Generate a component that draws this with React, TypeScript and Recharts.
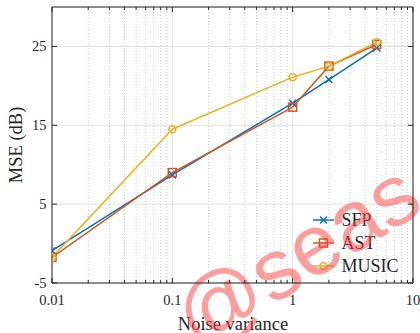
import React from 'react';
import { LineChart, Line, XAxis, YAxis, CartesianGrid, ReferenceLine, Customized } from 'recharts';

const noiseVariance = [0.01, 0.1, 1, 2, 5];
const sfpMse = [-0.9, 8.7, 17.8, 20.8, 24.8];
const astMse = [-1.75, 9.0, 17.3, 22.5, 25.25];
const musicMse = [-1.75, 14.5, 21.1, 22.5, 25.55];

const xTicks = [0.01, 0.1, 1, 10];
const xTickLabels = ['0.01', '0.1', '1', '10'];
const yTicks = [-5, 5, 15, 25];
const minorXTicks = [
  0.02, 0.03, 0.04, 0.05, 0.06, 0.07, 0.08, 0.09,
  0.2, 0.3, 0.4, 0.5, 0.6, 0.7, 0.8, 0.9,
  2, 3, 4, 5, 6, 7, 8, 9,
];
const xDomain: [number, number] = [0.01, 10];
const yDomain: [number, number] = [-5, 30];

const seriesNames = ['SFP', 'AST', 'MUSIC'];
const seriesColors = ['#0072BD', '#D95319', '#EDB120'];

const data = noiseVariance.map((x, i) => ({
  x,
  sfp: sfpMse[i],
  ast: astMse[i],
  music: musicMse[i],
}));

const FONT = 'Liberation Serif, serif';
const AXIS = '#262626';
const serifStyle = { fontFamily: FONT };

const Marker = ({ kind, cx, cy, color }: { kind: number; cx: number; cy: number; color: string }) => {
  if (kind === 0) {
    const s = 3.5;
    return (
      <g>
        <line x1={cx - s} y1={cy - s} x2={cx + s} y2={cy + s} stroke={color} strokeWidth={1.5} />
        <line x1={cx - s} y1={cy + s} x2={cx + s} y2={cy - s} stroke={color} strokeWidth={1.5} />
      </g>
    );
  }
  if (kind === 1) {
    return <rect x={cx - 4} y={cy - 4} width={8} height={8} fill="none" stroke={color} strokeWidth={1.5} />;
  }
  return <circle cx={cx} cy={cy} r={3.5} fill="none" stroke={color} strokeWidth={1.5} />;
};

const dotFor = (kind: number) => (p: any) => (
  <g key={`m-${kind}-${p.index}`}>
    <Marker kind={kind} cx={p.cx} cy={p.cy} color={seriesColors[kind]} />
  </g>
);

const BottomTick = (p: any) => {
  const idx = xTicks.indexOf(p.payload.value);
  return (
    <g>
      <line x1={p.x} y1={p.y} x2={p.x} y2={p.y - 5} stroke={AXIS} strokeWidth={1} />
      <text x={p.x} y={p.y + 22} textAnchor="middle" style={serifStyle} fontSize={14.5} fill={AXIS}>
        {idx >= 0 ? xTickLabels[idx] : String(p.payload.value)}
      </text>
    </g>
  );
};
const TopTick = (p: any) => (
  <line x1={p.x} y1={p.y} x2={p.x} y2={p.y + 5} stroke={AXIS} strokeWidth={1} />
);
const LeftTick = (p: any) => (
  <g>
    <line x1={p.x} y1={p.y} x2={p.x + 5} y2={p.y} stroke={AXIS} strokeWidth={1} />
    <text x={p.x - 5.5} y={p.y + 5} textAnchor="end" style={serifStyle} fontSize={14.5} fill={AXIS}>
      {String(p.payload.value)}
    </text>
  </g>
);
const RightTick = (p: any) => (
  <line x1={p.x} y1={p.y} x2={p.x - 5} y2={p.y} stroke={AXIS} strokeWidth={1} />
);

const Overlay = () => (
  <g>
    <text x={233} y={330} textAnchor="middle" style={serifStyle} fontSize={18.5} fill={AXIS}>
      Noise variance
    </text>
    <text
      x={22}
      y={145}
      textAnchor="middle"
      style={serifStyle}
      fontSize={18.5}
      fill={AXIS}
      transform="rotate(-90 22 145)"
    >
      MSE (dB)
    </text>
    {seriesNames.map((name, i) => {
      const cy = 220 + i * 23;
      return (
        <g key={name}>
          <line x1={313} y1={cy} x2={334} y2={cy} stroke={seriesColors[i]} strokeWidth={1.5} />
          <Marker kind={i} cx={323.5} cy={cy} color={seriesColors[i]} />
          <text x={341.5} y={cy + 6} style={serifStyle} fontSize={18} fill={AXIS}>
            {name}
          </text>
        </g>
      );
    })}
    <text
      transform="translate(198 352) rotate(-32)"
      x={0}
      y={0}
      style={{ fontFamily: 'Liberation Sans, Arial, sans-serif' }}
      fontSize={86}
      fill="rgba(255,60,60,0.5)"
    >
      @seas
    </text>
  </g>
);

const axisCommon = {
  tickSize: 0,
  tickMargin: 0,
  tickLine: false,
  allowDataOverflow: true,
  interval: 0 as const,
  axisLine: { stroke: AXIS, strokeWidth: 1 },
};

export default function App() {
  return (
    <div style={{ position: 'absolute', left: 0, top: 0, width: 420, height: 333, background: '#fff' }}>
      <LineChart width={420} height={333} data={data} margin={{ top: 4, right: 4, bottom: 10, left: 12 }}>
        <CartesianGrid stroke="#e2e2e2" strokeWidth={1} />
        {minorXTicks.map((v) => (
          <ReferenceLine key={`g${v}`} x={v} stroke="#cccccc" strokeDasharray="1 2" strokeWidth={1} />
        ))}
        {minorXTicks.map((v) => (
          <ReferenceLine
            key={`b${v}`}
            segment={[{ x: v, y: -5 }, { x: v, y: -4.62 }]}
            stroke={AXIS}
            strokeWidth={1}
          />
        ))}
        {minorXTicks.map((v) => (
          <ReferenceLine
            key={`t${v}`}
            segment={[{ x: v, y: 30 }, { x: v, y: 29.62 }]}
            stroke={AXIS}
            strokeWidth={1}
          />
        ))}
        <XAxis
          {...axisCommon}
          dataKey="x"
          type="number"
          scale="log"
          domain={xDomain}
          ticks={xTicks}
          height={40}
          tick={BottomTick}
        />
        <XAxis
          {...axisCommon}
          xAxisId="top"
          orientation="top"
          dataKey="x"
          type="number"
          scale="log"
          domain={xDomain}
          ticks={xTicks}
          height={3}
          tick={TopTick}
        />
        <YAxis {...axisCommon} type="number" domain={yDomain} ticks={yTicks} width={40} tick={LeftTick} />
        <YAxis
          {...axisCommon}
          yAxisId="right"
          orientation="right"
          type="number"
          domain={yDomain}
          ticks={yTicks}
          width={3}
          tick={RightTick}
        />
        <Line dataKey="sfp" stroke={seriesColors[0]} strokeWidth={1.5} dot={dotFor(0)} isAnimationActive={false} />
        <Line dataKey="ast" stroke={seriesColors[1]} strokeWidth={1.5} dot={dotFor(1)} isAnimationActive={false} />
        <Line dataKey="music" stroke={seriesColors[2]} strokeWidth={1.5} dot={dotFor(2)} isAnimationActive={false} />
        <Customized component={<Overlay />} />
      </LineChart>
    </div>
  );
}
